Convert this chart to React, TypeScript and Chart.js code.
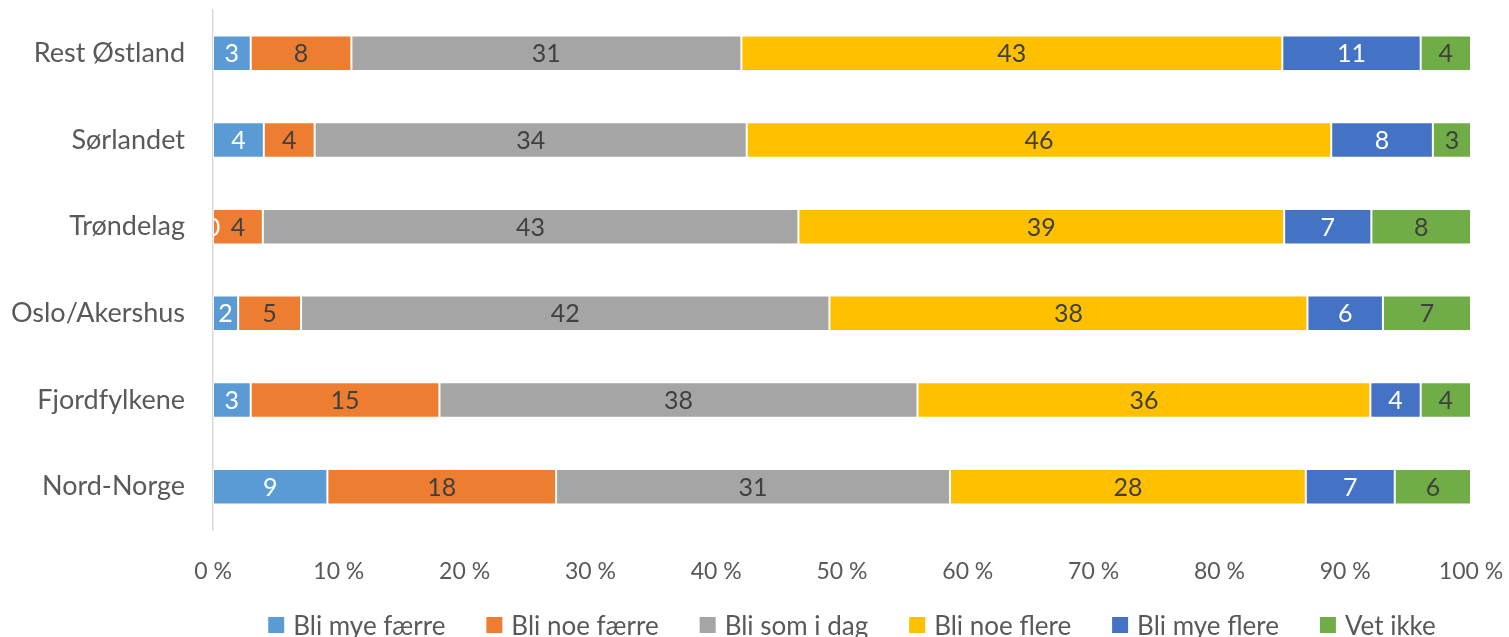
import React, { useEffect, useRef } from "react";
import { Chart, registerables } from "chart.js";

Chart.register(...registerables);

const categories = ["Rest Østland", "Sørlandet", "Trøndelag", "Oslo/Akershus", "Fjordfylkene", "Nord-Norge"];
const seriesNames = ["Bli mye færre", "Bli noe færre", "Bli som i dag", "Bli noe flere", "Bli mye flere", "Vet ikke"];
const bliMyeFaerre = [3, 4, 0, 2, 3, 9];
const bliNoeFaerre = [8, 4, 4, 5, 15, 18];
const bliSomIDag = [31, 34, 43, 42, 38, 31];
const bliNoeFlere = [43, 46, 39, 38, 36, 28];
const bliMyeFlere = [11, 8, 7, 6, 4, 7];
const vetIkke = [4, 3, 8, 7, 4, 6];
const xTicks = [0, 10, 20, 30, 40, 50, 60, 70, 80, 90, 100];

const seriesColors = ["#5B9BD5", "#ED7D31", "#A5A5A5", "#FFC000", "#4472C4", "#70AD47"];
const labelColors = ["#FFFFFF", "#404040", "#404040", "#404040", "#FFFFFF", "#404040"];
const FONT = "Lato";
const TEXT = "#595959";

export default function App() {
  const ref = useRef<HTMLCanvasElement | null>(null);
  useEffect(() => {
    const raw = [bliMyeFaerre, bliNoeFaerre, bliSomIDag, bliNoeFlere, bliMyeFlere, vetIkke];
    const totals = categories.map((_, i) => raw.reduce((s, arr) => s + arr[i], 0));
    const datasets = raw.map((arr, k) => ({
      label: seriesNames[k],
      data: arr.map((v, i) => (v / totals[i]) * 100),
      rawValues: arr,
      backgroundColor: seriesColors[k],
      borderColor: "rgba(255,255,255,0.55)",
      borderWidth: 1,
      borderSkipped: false,
      barPercentage: 0.41,
      categoryPercentage: 1,
    }));

    const labelPlugin = {
      id: "segLabels",
      afterDatasetsDraw(chart: any) {
        const { ctx, chartArea } = chart;
        ctx.save();
        ctx.beginPath();
        ctx.rect(chartArea.left, chartArea.top, chartArea.right - chartArea.left, chartArea.bottom - chartArea.top);
        ctx.clip();
        ctx.font = `25px ${FONT}`;
        ctx.textAlign = "center";
        ctx.textBaseline = "middle";
        chart.data.datasets.forEach((ds: any, k: number) => {
          const meta = chart.getDatasetMeta(k);
          meta.data.forEach((el: any, i: number) => {
            const cx = (el.x + el.base) / 2;
            ctx.fillStyle = labelColors[k];
            ctx.fillText(String(ds.rawValues[i]), cx, el.y + 1);
          });
        });
        ctx.restore();
      },
    };

    const legendPlugin = {
      id: "customLegend",
      afterDraw(chart: any) {
        const { ctx, chartArea } = chart;
        const box = 16;
        const textGap = 9;
        const itemGap = 41;
        ctx.save();
        ctx.font = `26px ${FONT}`;
        ctx.textBaseline = "middle";
        ctx.textAlign = "left";
        const widths = seriesNames.map((n) => box + textGap + ctx.measureText(n).width);
        const total = widths.reduce((a, b) => a + b, 0) + itemGap * (widths.length - 1);
        const center = (chartArea.left + chartArea.right) / 2 + 10;
        const cy = chartArea.bottom + 96;
        let x = center - total / 2;
        seriesNames.forEach((n, k) => {
          ctx.fillStyle = seriesColors[k];
          ctx.fillRect(x, cy - box / 2 - 1, box, box);
          ctx.fillStyle = TEXT;
          ctx.fillText(n, x + box + textGap, cy + 1);
          x += widths[k] + itemGap;
        });
        ctx.restore();
      },
    };

    const chart = new Chart(ref.current as HTMLCanvasElement, {
      type: "bar",
      data: { labels: categories, datasets: datasets as any },
      options: {
        animation: false,
        responsive: false,
        indexAxis: "y",
        layout: { padding: { top: 10, right: 38, left: 0, bottom: 0 } },
        scales: {
          x: {
            stacked: true,
            min: 0,
            max: 100,
            afterBuildTicks: (scale: any) => {
              scale.ticks = xTicks.map((v) => ({ value: v }));
            },
            afterFit: (scale: any) => {
              scale.height = 107;
              scale.paddingLeft = 0;
              scale.paddingRight = 0;
            },
            grid: { display: false, drawTicks: false },
            border: { display: false },
            ticks: {
              color: TEXT,
              font: { family: FONT, size: 23 },
              padding: 28,
              maxRotation: 0,
              callback: (v: any) => `${v} %`,
            },
          },
          y: {
            stacked: true,
            afterFit: (scale: any) => {
              scale.width = 213;
              scale.paddingTop = 0;
              scale.paddingBottom = 0;
            },
            grid: { display: false, drawTicks: false },
            border: { display: true, color: "#D9D9D9", width: 1.5 },
            ticks: {
              color: TEXT,
              font: { family: FONT, size: 27 },
              padding: 28,
            },
          },
        },
        plugins: {
          legend: { display: false },
          tooltip: { enabled: false },
        },
      },
      plugins: [labelPlugin, legendPlugin],
    });
    return () => chart.destroy();
  }, []);

  return (
    <div style={{ position: "fixed", left: 0, top: 0, width: 1509, height: 637, background: "#fff" }}>
      <canvas ref={ref} width={1509} height={637} style={{ display: "block" }} />
    </div>
  );
}
